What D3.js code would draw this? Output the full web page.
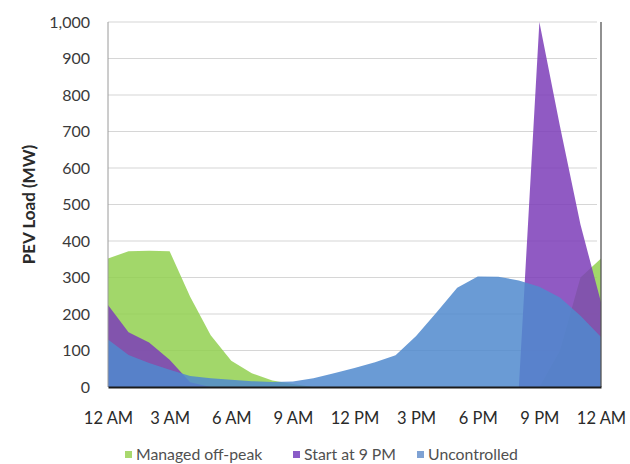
<!DOCTYPE html>
<html>
<head>
<meta charset="utf-8">
<script src="https://cdn.jsdelivr.net/npm/d3@7"></script>
<style>
  html, body { margin: 0; padding: 0; background: #ffffff; }
  svg { display: block; font-family: Lato, "Open Sans", sans-serif; }
</style>
</head>
<body>
<svg id="chart" width="630" height="464"></svg>
<script>
// ---------- data ----------
const hours = [0,1,2,3,4,5,6,7,8,9,10,11,12,13,14,15,16,17,18,19,20,21,22,23,24];
const managedOffPeak = [352,372,373,372,247,142,72,38,18,8,0,0,0,0,0,0,0,0,0,0,0,0,100,300,352];
const startAt9PM     = [225,150,122,75,13,0,0,0,0,0,0,0,0,0,0,0,0,0,0,0,0,1000,715,445,232];
const uncontrolled   = [130,88,66,47,30,24,20,16,14,15,24,38,52,68,87,140,205,272,303,302,292,275,245,195,137];
const seriesNames = ["Managed off-peak","Start at 9 PM","Uncontrolled"];
const xTickHours = [0,3,6,9,12,15,18,21,24];
const xTickLabels = ["12 AM","3 AM","6 AM","9 AM","12 PM","3 PM","6 PM","9 PM","12 AM"];
const yTicks = [0,100,200,300,400,500,600,700,800,900,1000];
const yTitle = "PEV Load (MW)";

// ---------- styles ----------
const colors = ["#92D050", "#7D3DB8", "#508ACE"];
const legendColors = ["#a9d86e", "#8a5cc8", "#7fa2d4"];
const fillOpacity = 0.85;

const svg = d3.select("#chart");
const pLeft = 108, pRight = 601, pTop = 22, pBottom = 387;

const x = d3.scaleLinear().domain([0, 24]).range([pLeft, pRight]);
const y = d3.scaleLinear().domain([0, 1000]).range([pBottom, pTop]);

// gridlines
svg.append("g")
  .selectAll("line")
  .data(yTicks.filter(d => d > 0))
  .join("line")
  .attr("x1", pLeft).attr("x2", pRight - 4)
  .attr("y1", d => y(d)).attr("y2", d => y(d))
  .attr("stroke", "#d6d6d6").attr("stroke-width", 1.1);

// areas
const allSeries = [managedOffPeak, startAt9PM, uncontrolled];
const area = d3.area()
  .x((d, i) => x(hours[i]))
  .y0(y(0))
  .y1(d => y(d))
  .curve(d3.curveLinear);

svg.append("g")
  .selectAll("path")
  .data(allSeries)
  .join("path")
  .attr("d", d => area(d))
  .attr("fill", (d, i) => colors[i])
  .attr("fill-opacity", fillOpacity);

// plot frame lines
svg.append("line").attr("x1", pLeft).attr("x2", pLeft).attr("y1", pTop).attr("y2", pBottom)
  .attr("stroke", "#9a9a9a").attr("stroke-width", 1);
svg.append("line").attr("x1", pRight).attr("x2", pRight).attr("y1", pTop).attr("y2", pBottom)
  .attr("stroke", "#555").attr("stroke-width", 1.3);

// y axis
const yAxis = svg.append("g")
  .attr("transform", `translate(${pLeft},0)`)
  .call(d3.axisLeft(y).tickValues(yTicks).tickFormat(d3.format(",")).tickSize(0).tickPadding(18));
yAxis.select(".domain").remove();
yAxis.selectAll("text")
  .attr("font-size", 16)
  .attr("font-family", "Lato, sans-serif")
  .attr("fill", "#3a3a3a");

// x axis
const xAxis = svg.append("g")
  .attr("transform", `translate(0,${pBottom})`)
  .call(d3.axisBottom(x).tickValues(xTickHours).tickFormat((d, i) => xTickLabels[i]).tickSize(0).tickPadding(25));
xAxis.select(".domain").attr("stroke", "#1a1a1a").attr("stroke-width", 2);
xAxis.selectAll("text")
  .attr("font-size", 16.5)
  .attr("font-family", "Lato, sans-serif")
  .attr("fill", "#2a2a2a");

// y title
svg.append("text")
  .attr("transform", `translate(35,${(pTop + pBottom) / 2}) rotate(-90)`)
  .attr("text-anchor", "middle")
  .attr("font-size", 17)
  .attr("font-weight", "bold")
  .attr("fill", "#2a2a2a")
  .text(yTitle);

// legend
const legendX = [125, 293, 417];
const legend = svg.append("g");
seriesNames.forEach((name, i) => {
  legend.append("rect")
    .attr("x", legendX[i]).attr("y", 451)
    .attr("width", 7).attr("height", 7)
    .attr("fill", legendColors[i]);
  legend.append("text")
    .attr("x", legendX[i] + 11).attr("y", 460)
    .attr("font-size", 15.8)
    .attr("fill", "#505050")
    .text(name);
});
</script>
</body>
</html>
